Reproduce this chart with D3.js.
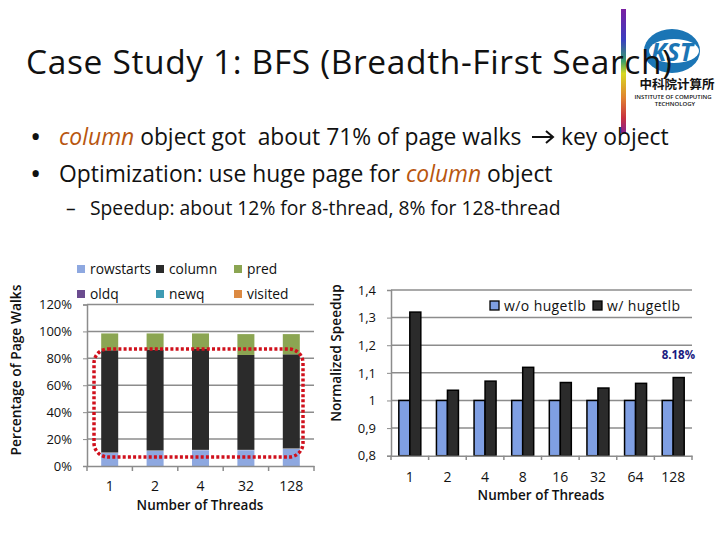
<!DOCTYPE html>
<html><head><meta charset="utf-8">
<script src="https://cdn.jsdelivr.net/npm/d3@7"></script>
<style>html,body{margin:0;background:#fff}svg{display:block}text{font-family:"Open Sans",sans-serif;fill:#111}</style>
</head><body><svg id="c" width="720" height="540"></svg>
<script>
const titleText="Case Study 1: BFS (Breadth-First Search)";
const bulletMarks=[{x:30,y:147,size:30,t:"•"},{x:30,y:184,size:30,t:"•"},{x:66,y:215,size:19.3,t:"–"}];
const bullets=[
 {x:59,y:145,size:22.85,parts:[["column","#b8560f","italic"],[" object got  about 71% of page walks","#111"]]},
 {x:59,y:182,size:22.85,parts:[["Optimization: use huge page for ","#111"],["column","#b8560f","italic"],[" object","#111"]]},
 {x:90,y:215,size:19.3,parts:[["Speedup: about 12% for 8-thread, 8% for 128-thread","#111"]]}
];
const leftCats=["1","2","4","32","128"];
const leftSeries=["rowstarts","column","pred","oldq","newq","visited"];
const leftColors=["#8ea8e0","#2b2b2b","#8ba552","#6b4c8f","#3f9bb3","#dc8a42"];
const rowstarts=[10,11.5,12,12,13];
const column=[76,75,75,70.5,70];
const pred=[12.5,12,11.5,15.5,15];
const leftTicks=[0,20,40,60,80,100,120];
const rightCats=["1","2","4","8","16","32","64","128"];
const withoutHuge=[1,1,1,1,1,1,1,1];
const withHuge=[1.32,1.037,1.07,1.12,1.065,1.045,1.062,1.083];
const rightTicks=[0.8,0.9,1,1.1,1.2,1.3,1.4];
const rightSeries=["w/o hugetlb","w/ hugetlb"];
const rightColors=["#7f9fe3","#2b2b2b"];

const svg=d3.select("#c");
// rainbow stripe
const defs=svg.append("defs");
const g=defs.append("linearGradient").attr("id","rb").attr("x1",0).attr("y1",0).attr("x2",0).attr("y2",1);
[["0","#7a1fa2"],["0.25","#3a3fc0"],["0.42","#3a9f6a"],["0.52","#d8d820"],["0.72","#e08030"],["0.88","#c83040"],["1","#8a2090"]]
 .forEach(s=>g.append("stop").attr("offset",s[0]).attr("stop-color",s[1]));
svg.append("rect").attr("x",621).attr("y",9).attr("width",5).attr("height",124).attr("fill","url(#rb)");
// logo
const lg=svg.append("g");
lg.append("ellipse").attr("cx",672).attr("cy",51).attr("rx",28).attr("ry",22).attr("fill","#1b75b5");
lg.append("ellipse").attr("cx",674).attr("cy",51).attr("rx",25).attr("ry",12).attr("fill","#fff");
lg.append("text").attr("x",672).attr("y",61).attr("text-anchor","middle").attr("font-size",25).attr("font-weight",700).attr("font-style","italic").style("fill","#1b75b5").text("KST");
lg.append("text").attr("x",677).attr("y",89).attr("text-anchor","middle").attr("font-size",12.5).attr("font-weight",700).style("font-family","'Noto Sans CJK SC'").text("中科院计算所");
lg.append("text").attr("x",673).attr("y",98.5).attr("text-anchor","middle").attr("font-size",6).attr("font-weight",600).text("INSTITUTE OF COMPUTING");
lg.append("text").attr("x",675).attr("y",106).attr("text-anchor","middle").attr("font-size",6).attr("font-weight",600).text("TECHNOLOGY");

svg.append("text").attr("x",26).attr("y",74).attr("font-size",33.5).attr("textLength",646).attr("lengthAdjust","spacing").text(titleText);
bulletMarks.forEach(b=>svg.append("text").attr("x",b.x).attr("y",b.y).attr("font-size",b.size).text(b.t));
bullets.forEach(b=>{
 const t=svg.append("text").attr("x",b.x).attr("y",b.y).attr("font-size",b.size).attr("xml:space","preserve");
 b.parts.forEach(p=>t.append("tspan").attr("fill",p[1]).style("fill",p[1]).attr("font-style",p[2]||"normal").text(p[0]));
});
const ar=svg.append("g").attr("stroke","#111").attr("stroke-width",2).attr("fill","none");
ar.append("path").attr("d","M532 137H552M546 131L553 137L546 143");
svg.append("text").attr("x",561).attr("y",145).attr("font-size",22.85).text("key object");

// Left chart
const grid="#8c8c8c";
const lx=d3.scaleBand().domain(leftCats).range([87,314]);
const ly=d3.scaleLinear().domain([0,120]).range([466,304.5]);
const L=svg.append("g");
L.selectAll(".g").data(leftTicks.filter(d=>d>0)).join("line").attr("x1",87).attr("x2",314)
 .attr("y1",d=>ly(d)).attr("y2",d=>ly(d)).attr("stroke",grid).attr("stroke-width",1.5);
const stack=[rowstarts,column,pred];
leftCats.forEach((c,i)=>{
 let base=0;
 stack.forEach((s,k)=>{
  L.append("rect").attr("x",lx(c)+lx.bandwidth()/2-8.5).attr("width",17)
   .attr("y",ly(base+s[i])).attr("height",ly(base)-ly(base+s[i])).attr("fill",leftColors[k]);
  base+=s[i];
  if(k===0)L.append("line").attr("x1",lx(c)+lx.bandwidth()/2-8.5).attr("x2",lx(c)+lx.bandwidth()/2+8.5).attr("y1",ly(base)).attr("y2",ly(base)).attr("stroke","#fff").attr("stroke-width",.7);
 });
});
const lAxX=d3.axisBottom(lx).tickSize(0).tickPadding(15);
const la=L.append("g").attr("transform","translate(0,466)").call(lAxX);
la.select(".domain").attr("stroke",grid).attr("stroke-width",1.5);
la.selectAll("text").attr("font-size",14);
L.selectAll(".xt").data(d3.range(6)).join("line").attr("x1",d=>87+d*lx.bandwidth()).attr("x2",d=>87+d*lx.bandwidth())
 .attr("y1",466).attr("y2",471).attr("stroke",grid).attr("stroke-width",1.5);
const lAxY=d3.axisLeft(ly).tickValues(leftTicks).tickFormat(d=>d+"%").tickSize(4).tickPadding(11);
const lay=L.append("g").attr("transform","translate(87,0)").call(lAxY);
lay.select(".domain").attr("stroke",grid).attr("stroke-width",1.5);
lay.selectAll("line").attr("stroke",grid);
lay.selectAll("text").attr("font-size",13);
L.append("text").attr("transform","translate(21,370) rotate(-90)").attr("text-anchor","middle").attr("font-size",13.8).attr("font-weight",600).text("Percentage of Page Walks");
L.append("text").attr("x",200).attr("y",510).attr("text-anchor","middle").attr("font-size",13.5).attr("font-weight",600).text("Number of Threads");
const legPos=[[77,270],[156,270],[234,270],[77,295],[156,295],[234,295]];
leftSeries.forEach((s,i)=>{
 L.append("rect").attr("x",legPos[i][0]).attr("y",legPos[i][1]-5).attr("width",8).attr("height",8).attr("fill",leftColors[i]);
 L.append("text").attr("x",legPos[i][0]+13).attr("y",legPos[i][1]+4).attr("font-size",13.8).text(s);
});
svg.append("rect").attr("x",94).attr("y",349).attr("width",209).attr("height",108).attr("rx",14)
 .attr("fill","none").attr("stroke","#d0101c").attr("stroke-width",3.5).attr("stroke-dasharray","3 2.2");

// Right chart
const rx=d3.scaleBand().domain(rightCats).range([391,692]);
const ry=d3.scaleLinear().domain([0.8,1.4]).range([455.7,290]);
const R=svg.append("g");
R.selectAll(".g").data(rightTicks.filter(d=>d>0.8)).join("line").attr("x1",391).attr("x2",692)
 .attr("y1",d=>ry(d)).attr("y2",d=>ry(d)).attr("stroke",grid).attr("stroke-width",1.5);
rightCats.forEach((c,i)=>{
 const cx=rx(c)+rx.bandwidth()/2;
 R.append("rect").attr("x",cx-11).attr("width",11).attr("y",ry(withoutHuge[i])).attr("height",ry(0.8)-ry(withoutHuge[i])).attr("fill",rightColors[0]).attr("stroke","#000").attr("stroke-width",1.5);
 R.append("rect").attr("x",cx).attr("width",11).attr("y",ry(withHuge[i])).attr("height",ry(0.8)-ry(withHuge[i])).attr("fill",rightColors[1]).attr("stroke","#000").attr("stroke-width",1.5);
});
const rAxX=d3.axisBottom(rx).tickSize(0).tickPadding(16);
const ra=R.append("g").attr("transform","translate(0,455.7)").call(rAxX);
ra.select(".domain").attr("stroke",grid).attr("stroke-width",1.5);
ra.selectAll("text").attr("font-size",14);
R.selectAll(".xt").data(d3.range(9)).join("line").attr("x1",d=>391+d*rx.bandwidth()).attr("x2",d=>391+d*rx.bandwidth())
 .attr("y1",455.7).attr("y2",460).attr("stroke",grid).attr("stroke-width",1.5);
const rAxY=d3.axisLeft(ry).tickValues(rightTicks).tickFormat(d=>d3.format(".1f")(d).replace(".",",").replace(/^1,0$/,"1")).tickSize(4).tickPadding(11);
const ray=R.append("g").attr("transform","translate(391,0)").call(rAxY);
ray.select(".domain").attr("stroke",grid).attr("stroke-width",1.5);
ray.selectAll("line").attr("stroke",grid);
ray.selectAll("text").attr("font-size",13);
R.append("text").attr("transform","translate(341,353) rotate(-90)").attr("text-anchor","middle").attr("font-size",13.7).attr("font-weight",600).text("Normalized Speedup");
R.append("text").attr("x",541).attr("y",500).attr("text-anchor","middle").attr("font-size",13.5).attr("font-weight",600).text("Number of Threads");
[[490,504],[593,607]].forEach((p,i)=>{
 R.append("rect").attr("x",p[0]).attr("y",301).attr("width",9).attr("height",9).attr("fill",rightColors[i]).attr("stroke","#000").attr("stroke-width",1.3);
 R.append("text").attr("x",p[1]).attr("y",311).attr("font-size",14).attr("letter-spacing",0.4).text(rightSeries[i]);
});
R.append("text").attr("x",695).attr("y",359).attr("text-anchor","end").attr("font-size",11.5).attr("font-weight",700).style("fill","#1a1a80").text("8.18%");
</script></body></html>
